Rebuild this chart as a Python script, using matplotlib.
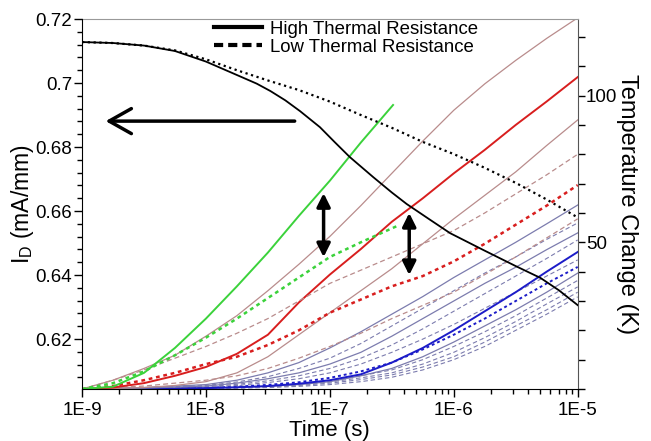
import numpy as np
import matplotlib
matplotlib.use('Agg')
import matplotlib.pyplot as plt
from matplotlib.lines import Line2D
from matplotlib.ticker import MultipleLocator, LogLocator, FixedLocator, FuncFormatter, NullFormatter

plt.rcParams['font.family'] = ['Liberation Sans', 'DejaVu Sans']

# ---- drain current (left axis), time given as log10(t) ----
id_high_logt = [-9, -8.75, -8.5, -8.25, -8.0, -7.75, -7.59, -7.48, -7.36, -7.24, -7.08, -6.96,
                -6.84, -6.65, -6.5, -6.38, -6.2, -6.03, -5.76, -5.5, -5.3, -5.15, -5.0]
id_high = [0.7128, 0.7125, 0.7117, 0.7100, 0.7067, 0.7025, 0.6998, 0.6975, 0.6946, 0.6912, 0.6862, 0.6815,
           0.6769, 0.6706, 0.6658, 0.6622, 0.6575, 0.6531, 0.6478, 0.6428, 0.6391, 0.6352, 0.6306]
id_low_logt = [-9, -8.75, -8.5, -8.25, -8.0, -7.75, -7.5, -7.25, -7.0, -6.75, -6.5, -6.25,
               -6.0, -5.75, -5.5, -5.25, -5.0]
id_low = [0.7128, 0.7125, 0.7117, 0.7102, 0.7074, 0.7040, 0.7008, 0.6978, 0.6942, 0.6900, 0.6860, 0.6816,
          0.6778, 0.6735, 0.6688, 0.6636, 0.6580]

# ---- temperature change (right axis) ----
green_hi_logt = [-9, -8.75, -8.5, -8.25, -8.0, -7.75, -7.5, -7.25, -7.0, -6.75, -6.49]
green_hi = [0, 0.8, 5.5, 14, 24, 35, 46.5, 59, 71, 84, 96.8]
green_lo_logt = [-9, -8.75, -8.5, -8.25, -8.0, -7.75, -7.5, -7.25, -7.0, -6.75, -6.46]
green_lo = [0, 2, 6, 11.5, 17.5, 24, 31, 38, 45, 50, 55.5]

logt_full = [-9, -8.75, -8.5, -8.25, -8.0, -7.75, -7.5, -7.25, -7.0, -6.75, -6.5, -6.25,
             -6.0, -5.75, -5.5, -5.25, -5.0]
brown1_hi = [0, 3, 7, 11.5, 18, 25, 33.5, 42.5, 52, 62.5, 73.5, 84.5, 95, 104, 112, 119.5, 126.5]
brown1_lo = [0, 3, 6.5, 10.5, 14.5, 19, 24, 30, 36, 40.5, 45, 49.5, 54, 60, 66.5, 73, 80]
red_hi = [0, 0.5, 2, 4.5, 7.5, 12, 18.5, 29.5, 39, 47.7, 57, 65, 73.5, 81.5, 90, 98, 106.3]
red_lo = [0, 1, 3, 5.5, 8.5, 11, 15, 20, 26, 30.5, 35, 38.5, 43.5, 49.5, 56, 62.5, 69.5]
brown2_hi = [0, 0.2, 0.5, 1.2, 2.5, 5.5, 11, 18.5, 26, 33.5, 41, 49.5, 58, 66, 74, 83, 91.7]
brown2_lo = [0, 0.5, 1, 2, 3, 4.5, 7, 10.5, 14.5, 19, 24, 28.5, 33, 39, 45, 51.5, 58]

blue_logt = [-9, -8.5, -8, -7.75, -7.5, -7.25, -7, -6.75, -6.5, -6.25, -6, -5.75, -5.5, -5.25, -5]
blue_hi_1 = [0, 0.5, 1.5, 3, 5.5, 9, 14, 19.5, 25.5, 31.5, 38, 44, 50, 56.3, 62.7]
blue_hi_2 = [0, 0.3, 1, 2, 3.5, 5.5, 8.5, 12.5, 18, 24, 30, 36, 41.5, 47.5, 53.2]
blue_hi_3 = [0, 0.1, 0.3, 0.6, 1.0, 1.8, 3, 5, 9, 14, 20, 26.5, 33, 40, 46.7]
blue_hi_4 = [0, 0.1, 0.3, 0.5, 0.9, 1.5, 2.5, 4.5, 7, 11, 16, 21.5, 27, 33, 39.5]
blue_lo_1 = [0, 0.4, 1.2, 2.4, 4.2, 7, 10.5, 15.5, 21.5, 27.5, 33.5, 39.5, 45, 51, 56.6]
blue_lo_2 = [0, 0.2, 0.8, 1.6, 2.8, 4.5, 7, 10.5, 15, 20.5, 26.5, 32.5, 38.5, 44.5, 50.8]
blue_lo_3 = [0, 0.2, 0.6, 1.2, 2.2, 3.5, 5.5, 8.5, 12.5, 17, 22, 27.5, 33, 38.5, 44]
blue_lo_4 = [0, 0.1, 0.4, 0.8, 1.4, 2.3, 3.8, 6, 9, 13.5, 18.5, 24, 30, 36, 41.6]
blue_lo_5 = [0, 0.1, 0.3, 0.6, 1, 1.7, 2.8, 4.5, 6.5, 10, 14.5, 19.5, 25, 31, 37]
blue_lo_6 = [0, 0.1, 0.2, 0.5, 0.8, 1.4, 2.4, 3.8, 5.5, 8.5, 12.5, 17.5, 23, 29, 34.8]
blue_lo_7 = [0, 0.1, 0.2, 0.4, 0.7, 1.2, 2, 3.2, 4.8, 7.5, 11, 16, 21.5, 27, 33]
blue_lo_8 = [0, 0, 0.1, 0.3, 0.5, 0.9, 1.5, 2.5, 4, 6.5, 10, 14.5, 20, 25.5, 31.4]

xtick_labels = ['1E-9', '1E-8', '1E-7', '1E-6', '1E-5']

GREEN = '#3bd23b'
RED = '#d81e1e'
BROWN = '#b98c8c'
BLUEGREY = '#7c7cae'
BLUE = '#1c1cc8'
DASH = (0, (4, 2.5))
DOTS = (0, (1.5, 1.5))

fig = plt.figure(figsize=(6.51, 4.41), dpi=100)
ax = fig.add_axes([0.126, 0.1179, 0.7614, 0.839])
ax2 = ax.twinx()


def tt(logt):
    return 10.0 ** np.array(logt)


# temperature curves
curves = [
    (blue_logt, blue_lo_8, BLUEGREY, 0.8, DASH),
    (blue_logt, blue_lo_7, BLUEGREY, 0.8, DASH),
    (blue_logt, blue_lo_6, BLUEGREY, 0.8, DASH),
    (blue_logt, blue_lo_5, BLUEGREY, 0.8, DASH),
    (blue_logt, blue_lo_4, BLUE, 1.4, DOTS),
    (blue_logt, blue_lo_3, BLUEGREY, 0.8, DASH),
    (blue_logt, blue_lo_2, BLUEGREY, 0.8, DASH),
    (blue_logt, blue_lo_1, BLUEGREY, 0.8, DASH),
    (blue_logt, blue_hi_4, BLUEGREY, 0.9, '-'),
    (blue_logt, blue_hi_3, BLUE, 1.4, '-'),
    (blue_logt, blue_hi_2, BLUEGREY, 0.9, '-'),
    (blue_logt, blue_hi_1, BLUEGREY, 0.9, '-'),
    (logt_full, brown2_lo, BROWN, 0.9, DASH),
    (logt_full, brown2_hi, BROWN, 0.9, '-'),
    (logt_full, red_lo, RED, 1.8, DOTS),
    (logt_full, red_hi, RED, 1.4, '-'),
    (logt_full, brown1_lo, BROWN, 0.9, DASH),
    (logt_full, brown1_hi, BROWN, 0.9, '-'),
    (green_lo_logt, green_lo, GREEN, 1.8, DOTS),
    (green_hi_logt, green_hi, GREEN, 1.4, '-'),
]
for lt, temp, col, lw, ls in curves:
    ax2.plot(tt(lt), temp, color=col, lw=lw, linestyle=ls)

# drain current curves
ax.plot(tt(id_high_logt), id_high, color='black', lw=1.3)
ax.plot(tt(id_low_logt), id_low, color='black', lw=1.6, linestyle=(0, (1, 1.6)))

ax.set_zorder(ax2.get_zorder() + 1)
ax.patch.set_visible(False)

ax.set_xscale('log')
ax.set_xlim(1e-9, 1e-5)
ax.set_ylim(0.6044, 0.72)
ax2.set_ylim(0, 126.1)

ax.xaxis.set_major_locator(FixedLocator([1e-9, 1e-8, 1e-7, 1e-6, 1e-5]))
ax.xaxis.set_major_formatter(FuncFormatter(lambda v, p: xtick_labels[int(round(np.log10(v))) + 9]))
ax.xaxis.set_minor_locator(LogLocator(base=10, subs=np.arange(2, 10), numticks=20))
ax.xaxis.set_minor_formatter(NullFormatter())
ax.yaxis.set_major_locator(MultipleLocator(0.02))
ax.yaxis.set_minor_locator(MultipleLocator(0.004))
ax.yaxis.set_major_formatter(FuncFormatter(lambda v, p: '%g' % round(v, 3)))
ax2.yaxis.set_major_locator(FixedLocator([50, 100]))
ax2.yaxis.set_minor_locator(MultipleLocator(10))

ax.tick_params(axis='both', which='major', direction='out', length=6, width=1, labelsize=13.5, pad=1)
ax.tick_params(axis='both', which='minor', direction='out', length=3.5, width=1)
ax.tick_params(axis='x', which='major', pad=3)
ax2.tick_params(axis='y', which='both', direction='out', length=5, width=1, labelsize=13.5, pad=1)

for sp in ['top', 'right']:
    ax.spines[sp].set_visible(False)
for sp in ['left', 'bottom']:
    ax2.spines[sp].set_visible(False)
ax2.spines['top'].set_color('#999999')
ax2.spines['right'].set_color('#555555')

ax.set_xlabel('Time (s)', fontsize=16, labelpad=1)
ax.set_ylabel('$\\mathregular{I_D}$ (mA/mm)', fontsize=16.5, labelpad=0)
ax2.set_ylabel('Temperature Change (K)', fontsize=17, rotation=270, labelpad=15)

# arrows
ax.annotate('', xy=(1.55e-9, 0.6881), xytext=(5.2e-8, 0.6881),
            arrowprops=dict(arrowstyle='->,head_length=0.8,head_width=0.45', lw=2.5,
                            color='black', mutation_scale=20, shrinkA=0, shrinkB=0))
for xa, y0, y1 in [(8.9e-8, 0.6456, 0.6656), (4.37e-7, 0.6400, 0.6594)]:
    ax.annotate('', xy=(xa, y1), xytext=(xa, y0),
                arrowprops=dict(arrowstyle='<|-|>,head_length=0.4,head_width=0.2', lw=2.5,
                                color='black', mutation_scale=20, shrinkA=0, shrinkB=0))

handles = [Line2D([], [], color='black', lw=3),
           Line2D([], [], color='black', lw=3, linestyle=(0, (2.2, 1.2)))]
ax.legend(handles, ['High Thermal Resistance', 'Low Thermal Resistance'], loc='upper left',
          bbox_to_anchor=(0.24, 1.03), frameon=False, fontsize=13.4, handlelength=2.6,
          handletextpad=0.4, labelspacing=0.05, borderpad=0.2)

fig.savefig('out.png', dpi=100)
